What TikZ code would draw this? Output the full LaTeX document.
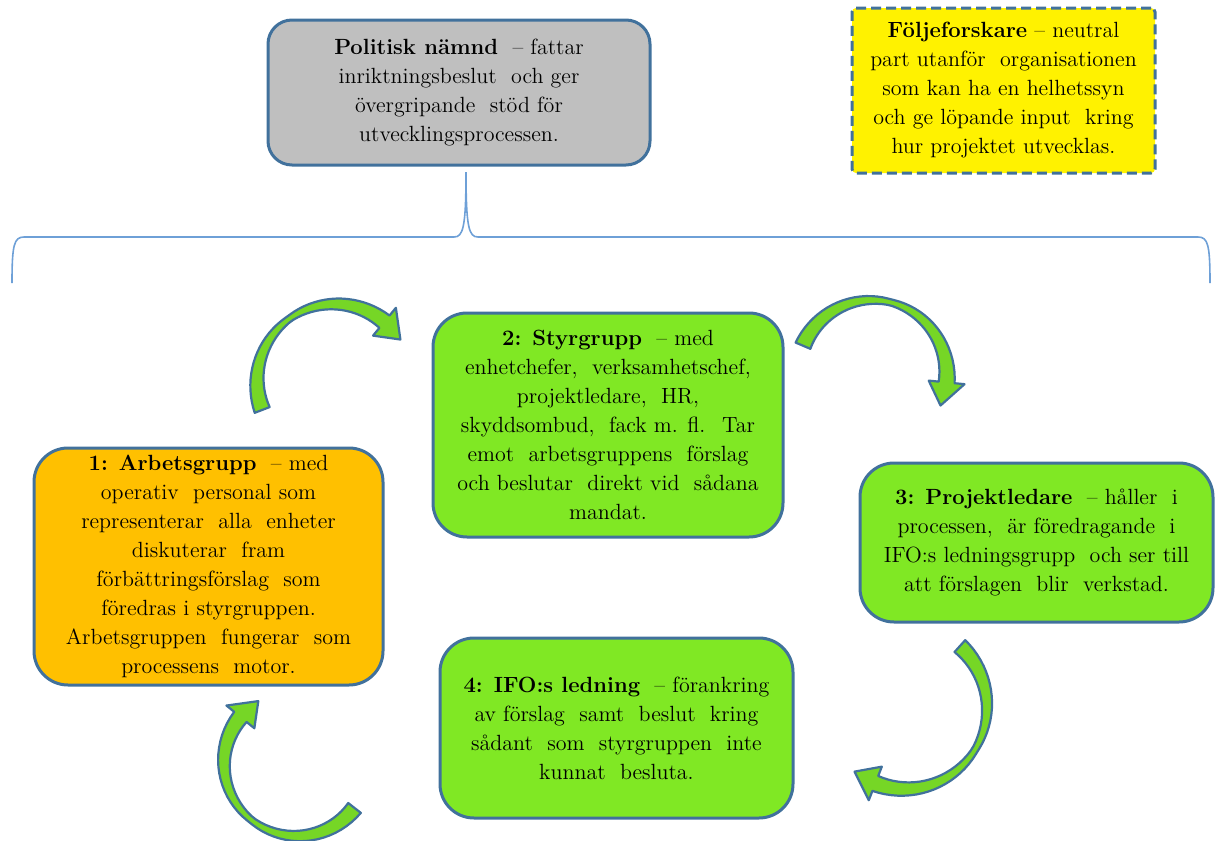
\documentclass[tikz,border=0pt]{standalone}
\usepackage{fontspec}
\usepackage{tikz}
\usetikzlibrary{calc}
\usepackage{xcolor}

\definecolor{boxblue}{RGB}{65,113,156}
\definecolor{braceblue}{RGB}{110,160,215}
\definecolor{boxgray}{RGB}{191,191,191}
\definecolor{boxorange}{RGB}{255,192,0}
\definecolor{boxgreen}{RGB}{128,232,36}
\definecolor{arrowgreen}{RGB}{118,214,38}

% center x, center y, radius, tail angle, tip angle (clockwise)
\newcommand{\bendarrow}[5]{%
	\pgfmathsetmacro{\hb}{#5+24/#3*57.3}%
	\filldraw[bendarr]
		plot[domain=#4:\hb, samples=40] ({#1+(#3+3+5*abs(2*(\x-(#4))/(\hb-(#4))-1))*cos(\x)}, {#2-(#3+3+5*abs(2*(\x-(#4))/(\hb-(#4))-1))*sin(\x)})
		-- ({#1+(#3+18)*cos(\hb)}, {#2-(#3+18)*sin(\hb)})
		-- ({#1+#3*cos(#5)}, {#2-#3*sin(#5)})
		-- ({#1+(#3-18)*cos(\hb)}, {#2-(#3-18)*sin(\hb)})
		-- plot[domain=\hb:#4, samples=40] ({#1+(#3-3-5*abs(2*(\x-(#4))/(\hb-(#4))-1))*cos(\x)}, {#2-(#3-3-5*abs(2*(\x-(#4))/(\hb-(#4))-1))*sin(\x)})
		-- cycle;%
}

\begin{document}
\begin{tikzpicture}[x=0.5pt, y=-0.5pt,
		box/.style={draw=boxblue, line width=1.5pt, rounded corners=17pt, align=center, inner sep=0pt, font=\fontsize{11}{14.5}\selectfont},
		bendarr/.style={draw=boxblue, line width=1.1pt, fill=arrowgreen, line join=round}]
				\useasboundingbox (0,0) rectangle (1217,841);
				\node[box, fill=boxgray, rounded corners=12pt, minimum width=191pt, minimum height=72.5pt] (politik) at (459,92.5) {\textbf{Politisk nämnd} \ – fattar\\inriktningsbeslut \ och ger\\övergripande \ stöd för\\utvecklingsprocessen.};
				\node[box, fill=yellow, rounded corners=2pt, dash pattern=on 5pt off 2.5pt, minimum width=151.5pt, minimum height=82.5pt] (forskare) at (1003.5,90.5) {\textbf{Följeforskare} – neutral\\part utanför \ organisationen\\som kan ha en helhetssyn\\och ge löpande input \ kring\\hur projektet utvecklas.};
				\draw[braceblue, line width=0.8pt] (12,283) .. controls (12,245) and (14,237) .. (24,237) -- (454,237) .. controls (463,237) and (466,228) .. (466,172) .. controls (466,228) and (469,237) .. (478,237) -- (1198,237) .. controls (1208,237) and (1210,245) .. (1210,283);
				\node[box, fill=boxgreen, minimum width=175pt, minimum height=112pt] (styr) at (608,425) {\textbf{2: Styrgrupp} \ – med\\enhetchefer, \ verksamhetschef,\\projektledare, \ HR,\\skyddsombud, \ fack m. fl. \ Tar\\emot \ arbetsgruppens \ förslag\\och beslutar \ direkt vid \ sådana\\mandat.};
				\node[box, fill=boxorange, minimum width=174.5pt, minimum height=118.5pt] (arbete) at (208.5,566.5) {\textbf{1: Arbetsgrupp} \ – med\\operativ \ personal som\\representerar \ alla \ enheter\\diskuterar \ fram\\förbättringsförslag \ som\\föredras i styrgruppen.\\Arbetsgruppen \ fungerar \ som\\processens \ motor.};
				\node[box, fill=boxgreen, minimum width=176.5pt, minimum height=79.5pt] (ledare) at (1036.5,542.5) {\textbf{3: Projektledare} \ – håller \ i\\processen, \ är föredragande \ i\\IFO:s ledningsgrupp \ och ser till\\att förslagen \ blir \ verkstad.};
				\node[box, fill=boxgreen, minimum width=176.5pt, minimum height=90pt] (ifo) at (616.5,728) {\textbf{4: IFO:s ledning} \ – förankring\\av förslag \ samt \ beslut \ kring\\sådant \ som \ styrgruppen \ inte\\kunnat \ besluta.};
				\bendarrow{335}{382}{78}{201}{33}
				\bendarrow{872}{375}{75}{157}{-24}
				\bendarrow{905}{707}{82}{48}{-128}
				\bendarrow{297}{763}{73}{-38}{-238}
\end{tikzpicture}
\end{document}
